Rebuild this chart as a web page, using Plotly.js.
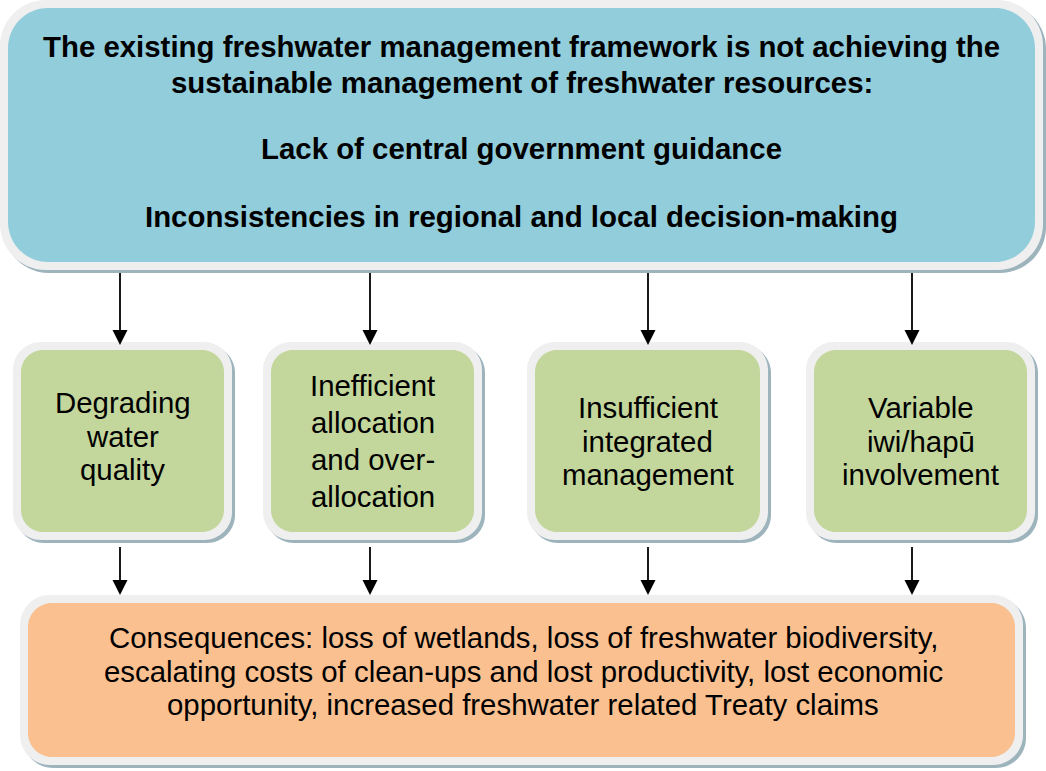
<!DOCTYPE html>
<html><head><meta charset="utf-8">
<script src="https://cdn.plot.ly/plotly-3.0.1.min.js"></script>
<style>html,body{margin:0;padding:0;background:#fff;overflow:hidden}</style>
</head><body><div id="chart" style="width:1046px;height:771px"></div>
<script>
// ---- content ----
const problemLines = [
  "The existing freshwater management framework is not achieving the",
  "sustainable management of freshwater resources:",
  "Lack of central government guidance",
  "Inconsistencies in regional and local decision-making"
];
const causeLabels = [
  ["Degrading", "water", "quality"],
  ["Inefficient", "allocation", "and over-", "allocation"],
  ["Insufficient", "integrated", "management"],
  ["Variable", "iwi/hapū", "involvement"]
];
const consequenceLines = [
  "Consequences: loss of wetlands, loss of freshwater biodiversity,",
  "escalating costs of clean-ups and lost productivity, lost economic",
  "opportunity, increased freshwater related Treaty claims"
];

// ---- layout / style constants ----
const W = 1046, H = 771;
const BORDER = 8, SHADOW = 3;
const COL_BORDER = '#efefef', COL_SHADOW = '#9db4bd';
const COL_TOP = '#92cddc', COL_CAUSE = '#c3d69b', COL_CONS = '#fac090';
const FONT = '"Liberation Sans", Arial, sans-serif';
const FONT_SIZE = 29.4;

const topBox = {x0: 0, y0: 0, x1: 1043, y1: 270, r: 46};
const topLineY = [46, 82, 148, 216];
const causeBoxes = [
  {x0: 13, x1: 232, cy: 436, gap: 33.5},
  {x0: 263, x1: 482, cy: 441, gap: 37.3},
  {x0: 527, x1: 768, cy: 441, gap: 33.5},
  {x0: 806, x1: 1035, cy: 441, gap: 33.5}
];
const causeY0 = 342, causeY1 = 540, causeR = 28;
const arrowX = [120, 370, 648, 912];
const consBox = {x0: 20, y0: 595, x1: 1023, y1: 765, r: 30};
const consCY = 671, consGap = 33.5;

function rr(x0, y0, x1, y1, r) {
  const k = 0.4477 * r;
  return `M${x0 + r},${y0} L${x1 - r},${y0} C${x1 - k},${y0} ${x1},${y0 + k} ${x1},${y0 + r} ` +
         `L${x1},${y1 - r} C${x1},${y1 - k} ${x1 - k},${y1} ${x1 - r},${y1} ` +
         `L${x0 + r},${y1} C${x0 + k},${y1} ${x0},${y1 - k} ${x0},${y1 - r} ` +
         `L${x0},${y0 + r} C${x0},${y0 + k} ${x0 + k},${y0} ${x0 + r},${y0} Z`;
}
const shapes = [];
function box(b, fill) {
  const base = {type: 'path', xref: 'x', yref: 'y', line: {width: 0}, layer: 'below'};
  shapes.push(Object.assign({}, base, {path: rr(b.x0 + SHADOW, b.y0 + SHADOW, b.x1 + SHADOW, b.y1 + SHADOW, b.r), fillcolor: COL_SHADOW}));
  shapes.push(Object.assign({}, base, {path: rr(b.x0, b.y0, b.x1, b.y1, b.r), fillcolor: COL_BORDER}));
  shapes.push(Object.assign({}, base, {path: rr(b.x0 + BORDER, b.y0 + BORDER, b.x1 - BORDER, b.y1 - BORDER, b.r - BORDER * 0.75), fillcolor: fill}));
}
function arrow(x, y0, y1) {
  const hw = 7.5, hh = 15;
  shapes.push({type: 'line', xref: 'x', yref: 'y', x0: x, x1: x, y0: y0, y1: y1 - hh + 1, line: {color: '#000', width: 1.8}});
  shapes.push({type: 'path', xref: 'x', yref: 'y', path: `M${x - hw},${y1 - hh} L${x + hw},${y1 - hh} L${x},${y1} Z`, fillcolor: '#000', line: {width: 0}});
}

box(topBox, COL_TOP);
causeBoxes.forEach(c => box({x0: c.x0, y0: causeY0, x1: c.x1, y1: causeY1, r: causeR}, COL_CAUSE));
box(consBox, COL_CONS);
arrowX.forEach(x => { arrow(x, 273, 345); arrow(x, 547, 595); });

const annotations = [];
function txt(x, y, t, bold) {
  annotations.push({xref: 'x', yref: 'y', x: x, y: y, text: bold ? '<b>' + t + '</b>' : t, showarrow: false,
    xanchor: 'center', yanchor: 'middle', font: {family: FONT, size: FONT_SIZE, color: '#000'}});
}
const topCX = 521.5;
problemLines.forEach((t, i) => txt(topCX, topLineY[i], t, true));
causeLabels.forEach((lines, i) => {
  const c = causeBoxes[i];
  const cx = (c.x0 + c.x1) / 2;
  lines.forEach((t, j) => txt(cx, c.cy + (j - (lines.length - 1) / 2) * c.gap, t, false));
});
const consCX = 523;
consequenceLines.forEach((t, j) => txt(consCX, consCY + (j - 1) * consGap, t, false));

const layout = {
  width: W, height: H, margin: {l: 0, r: 0, t: 0, b: 0},
  paper_bgcolor: '#fff', plot_bgcolor: '#fff', showlegend: false,
  xaxis: {range: [0, W], visible: false, fixedrange: true},
  yaxis: {range: [H, 0], visible: false, fixedrange: true},
  shapes: shapes, annotations: annotations
};
Plotly.newPlot('chart', [], layout, {staticPlot: true, displayModeBar: false});
</script>
</body></html>
